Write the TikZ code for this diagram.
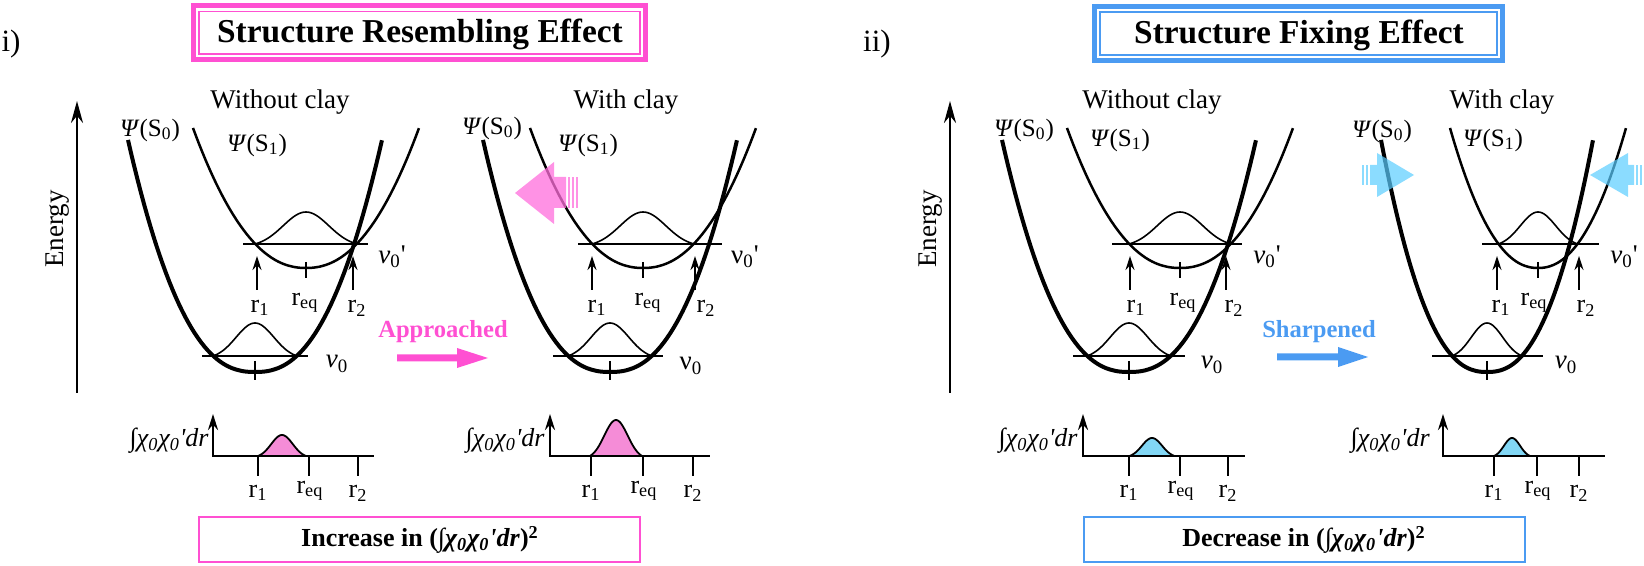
\documentclass[tikz,border=0pt]{standalone}
\usepackage{fontspec}
\setmainfont{Liberation Serif}
\usetikzlibrary{arrows.meta}
\definecolor{pinkc}{RGB}{255,80,210}
\definecolor{bluec}{RGB}{75,155,242}
\definecolor{pinkfill}{RGB}{245,140,215}
\definecolor{bluefill}{RGB}{130,215,245}
\definecolor{cyanarr}{RGB}{90,205,255}
\definecolor{pinkarr}{RGB}{255,110,220}
\newcommand\pr{\textquotesingle}
\newcommand\wellpot[4]{%
  \draw[s0] plot[domain=-1:1,samples=81] ({#1+#2*\x},{372-232*pow(abs(\x)+0.0001,2.4)});
  \draw[s1] plot[domain=-1:1,samples=81] ({#3+#4*\x},{268-140*pow(abs(\x)+0.0001,2.2)});
}
\newcommand\gaus[4]{%
  \draw[gline] plot[domain=-1:1,samples=41] ({#1+#2*\x},{#3-#4*(exp(-2.5*\x*\x)-0.0821)/0.9179});
}
\newcommand\gausfill[5]{%
  \filldraw[fill=#5,line width=0.9pt] plot[domain=-1:1,samples=41] ({#1+#2*\x},{#3-#4*(exp(-2.5*\x*\x)-0.0821)/0.9179}) -- cycle;
}
\begin{document}
\begin{tikzpicture}[x=0.5pt,y=-0.5pt,
  s0/.style={line width=2pt},
  s1/.style={line width=1.25pt},
  gline/.style={line width=0.8pt},
  lev/.style={line width=0.9pt},
  tk/.style={line width=0.6pt},
  rarr/.style={line width=0.7pt,-{Stealth[length=7pt,width=4.5pt]}},
  eax/.style={line width=1.3pt,-{Stealth[length=11pt,width=6pt]}},
  iax/.style={line width=1.2pt,-{Stealth[length=8pt,width=5pt]}},
  xax/.style={line width=1.2pt},
  txt/.style={inner sep=0pt,font=\fontsize{13.5}{16}\selectfont},
  psil/.style={inner sep=0pt,font=\fontsize{12.5}{15}\selectfont},
  rl/.style={inner sep=0pt,font=\fontsize{13}{15}\selectfont},
  il/.style={inner sep=0pt,font=\fontsize{13}{15}\selectfont\itshape},
  ttl/.style={inner sep=0pt,font=\fontsize{16.7}{20}\selectfont\bfseries},
  btxt/.style={inner sep=0pt,font=\fontsize{13}{16}\selectfont\bfseries},
  atxt/.style={inner sep=0pt,font=\fontsize{12.3}{15}\selectfont\bfseries},
  num/.style={inner sep=0pt,font=\fontsize{15.5}{18}\selectfont}]
\useasboundingbox (0,0) rectangle (1644,566);

% ---------- titles ----------
\node[num] (ni) at (11,44) {i)};
\node[num] (nii) at (877,44) {ii)};
\draw[pinkc,line width=2.5pt] (193.5,6) rectangle (645.5,59.5);
\draw[pinkc,line width=0.8pt] (199,11.5) rectangle (640,54);
\node[ttl] (t1) at (420,34) {Structure Resembling Effect};
\draw[bluec,line width=2.5pt] (1094.5,6.5) rectangle (1502.5,60.5);
\draw[bluec,line width=0.8pt] (1100,12) rectangle (1497,55);
\node[ttl] (t2) at (1299,35) {Structure Fixing Effect};

% ---------- energy axes ----------
\draw[eax] (77,393) -- (77,101);
\node[txt,rotate=90] (e1) at (58,229) {Energy};
\draw[eax] (950,393) -- (950,101);
\node[txt,rotate=90] (e2) at (931,229) {Energy};

% ---------- panel A : without clay (i) ----------
\wellpot{255}{127}{306}{113}
\gaus{306}{51}{244}{32}
\gaus{255}{42}{356}{33}
\draw[lev] (243,244) -- (368,244);
\draw[lev] (202,356) -- (308,356);
\draw[tk] (306,262) -- (306,278);
\draw[tk] (255,361) -- (255,380);
\draw[rarr] (257,290) -- (257,256);
\draw[rarr] (353,290) -- (353,256);
\node[txt] (a-t) at (280,102) {Without clay};
\node[psil] (a-s0) at (150,130) {\textit{Ψ}(S\textsubscript{0})};
\node[psil] (a-s1) at (257,145) {\textit{Ψ}(S\textsubscript{1})};
\node[txt] (a-v1) at (392,257) {\textit{v}\textsubscript{0}\pr};
\node[txt] (a-v0) at (337,364) {\textit{v}\textsubscript{0}};
\node[rl] (a-r1) at (260,308) {r\textsubscript{1}};
\node[rl] (a-rq) at (305,303) {r\textsubscript{eq}};
\node[rl] (a-r2) at (357,308) {r\textsubscript{2}};

% ---------- panel B : with clay (i) ----------
\wellpot{610}{127}{643}{113}
\gaus{643}{51}{244}{32}
\gaus{610}{42}{356}{33}
\draw[lev] (578,244) -- (722,244);
\draw[lev] (553,356) -- (663,356);
\draw[tk] (643,262) -- (643,278);
\draw[tk] (610,361) -- (610,380);
\draw[rarr] (592,290) -- (592,256);
\draw[rarr] (695,290) -- (695,256);
\node[txt] (b-t) at (626,102) {With clay};
\node[psil] (b-s0) at (492,128) {\textit{Ψ}(S\textsubscript{0})};
\node[psil] (b-s1) at (588,145) {\textit{Ψ}(S\textsubscript{1})};
\node[txt] (b-v1) at (745,257) {ν\textsubscript{0}\pr};
\node[txt] (b-v0) at (691,366) {ν\textsubscript{0}};
\node[rl] (b-r1) at (597,308) {r\textsubscript{1}};
\node[rl] (b-rq) at (648,303) {r\textsubscript{eq}};
\node[rl] (b-r2) at (706,308) {r\textsubscript{2}};
% translucent pink arrow
\fill[pinkarr,opacity=0.75] (515,193) -- (554,162) -- (554,177) -- (566,177) -- (566,208) -- (554,208) -- (554,224) -- cycle;
\fill[pinkarr,opacity=0.75] (568,177) rectangle (570,208);
\fill[pinkarr,opacity=0.75] (572,177) rectangle (574,208);
\fill[pinkarr,opacity=0.75] (576,177) rectangle (577.5,208);

% approached arrow
\node[atxt,text=pinkc] (appr) at (443,332) {Approached};
\fill[pinkc] (397,354.5) -- (457,354.5) -- (457,348) -- (488,358) -- (457,368) -- (457,361.5) -- (397,361.5) -- cycle;

% ---------- panel C : without clay (ii) ----------
\wellpot{1129}{127}{1180}{113}
\gaus{1180}{51}{244}{32}
\gaus{1129}{42}{356}{33}
\draw[lev] (1112,244) -- (1242,244);
\draw[lev] (1073,356) -- (1185,356);
\draw[tk] (1180,262) -- (1180,278);
\draw[tk] (1129,361) -- (1129,380);
\draw[rarr] (1130,290) -- (1130,256);
\draw[rarr] (1226,290) -- (1226,256);
\node[txt] (c-t) at (1152,102) {Without clay};
\node[psil] (c-s0) at (1024,130) {\textit{Ψ}(S\textsubscript{0})};
\node[psil] (c-s1) at (1120,140) {\textit{Ψ}(S\textsubscript{1})};
\node[txt] (c-v1) at (1267,257) {\textit{v}\textsubscript{0}\pr};
\node[txt] (c-v0) at (1212,365) {\textit{v}\textsubscript{0}};
\node[rl] (c-r1) at (1136,308) {r\textsubscript{1}};
\node[rl] (c-rq) at (1183,303) {r\textsubscript{eq}};
\node[rl] (c-r2) at (1234,308) {r\textsubscript{2}};

% ---------- panel D : with clay (ii) ----------
\wellpot{1487}{106}{1538}{88}
\gaus{1538}{39.5}{244}{32}
\gaus{1487}{35}{356}{33}
\draw[lev] (1482,244) -- (1599,244);
\draw[lev] (1432,356) -- (1543,356);
\draw[tk] (1538,262) -- (1538,278);
\draw[tk] (1487,361) -- (1487,380);
\draw[rarr] (1497,290) -- (1497,256);
\draw[rarr] (1579,290) -- (1579,256);
\node[txt] (d-t) at (1502,102) {With clay};
\node[psil] (d-s0) at (1382,131) {\textit{Ψ}(S\textsubscript{0})};
\node[psil] (d-s1) at (1493,140) {\textit{Ψ}(S\textsubscript{1})};
\node[txt] (d-v1) at (1624,257) {\textit{v}\textsubscript{0}\pr};
\node[txt] (d-v0) at (1566,365) {\textit{v}\textsubscript{0}};
\node[rl] (d-r1) at (1501,308) {r\textsubscript{1}};
\node[rl] (d-rq) at (1534,303) {r\textsubscript{eq}};
\node[rl] (d-r2) at (1586,308) {r\textsubscript{2}};
% translucent blue arrows
\fill[cyanarr,opacity=0.7] (1414,175) -- (1377,153) -- (1377,165) -- (1370,165) -- (1370,185) -- (1377,185) -- (1377,197) -- cycle;
\fill[cyanarr,opacity=0.7] (1366,165) rectangle (1368,185);
\fill[cyanarr,opacity=0.7] (1362,165) rectangle (1364,185);
\fill[cyanarr,opacity=0.7] (1590,175) -- (1628,153) -- (1628,165) -- (1634,165) -- (1634,185) -- (1628,185) -- (1628,197) -- cycle;
\fill[cyanarr,opacity=0.7] (1636,165) rectangle (1638,185);
\fill[cyanarr,opacity=0.7] (1640,165) rectangle (1642,185);

% sharpened arrow
\node[atxt,text=bluec] (sharp) at (1319,332) {Sharpened};
\fill[bluec] (1277,353.5) -- (1338,353.5) -- (1338,347) -- (1368,357) -- (1338,367) -- (1338,360.5) -- (1277,360.5) -- cycle;

% ---------- overlap integral plots ----------
% i-left
\gausfill{282}{24}{456}{21}{pinkfill}
\draw[iax] (213,457) -- (213,414);
\draw[xax] (212.4,456) -- (374,456);
\foreach \t in {258,309,358} \draw[tk] (\t,456) -- (\t,476);
\node[il,anchor=east] (p1) at (209,441) {∫χ\textsubscript{0}χ\textsubscript{0}\pr dr};
\node[rl] (p1a) at (258,493) {r\textsubscript{1}};
\node[rl] (p1b) at (310,491) {r\textsubscript{eq}};
\node[rl] (p1c) at (358,493) {r\textsubscript{2}};
% i-right
\gausfill{616}{26}{456}{36}{pinkfill}
\draw[iax] (550,457) -- (550,414);
\draw[xax] (549.4,456) -- (710,456);
\foreach \t in {591,643,693} \draw[tk] (\t,456) -- (\t,476);
\node[il,anchor=east] (p2) at (545,441) {∫χ\textsubscript{0}χ\textsubscript{0}\pr dr};
\node[rl] (p2a) at (591,493) {r\textsubscript{1}};
\node[rl] (p2b) at (644,491) {r\textsubscript{eq}};
\node[rl] (p2c) at (693,493) {r\textsubscript{2}};
% ii-left
\gausfill{1152}{22.5}{456}{18}{bluefill}
\draw[iax] (1083,457) -- (1083,414);
\draw[xax] (1082.4,456) -- (1245,456);
\foreach \t in {1129,1180,1228} \draw[tk] (\t,456) -- (\t,476);
\node[il,anchor=east] (p3) at (1078,441) {∫χ\textsubscript{0}χ\textsubscript{0}\pr dr};
\node[rl] (p3a) at (1129,493) {r\textsubscript{1}};
\node[rl] (p3b) at (1181,491) {r\textsubscript{eq}};
\node[rl] (p3c) at (1228,493) {r\textsubscript{2}};
% ii-right
\gausfill{1512}{18}{456}{18}{bluefill}
\draw[iax] (1443,457) -- (1443,414);
\draw[xax] (1442.4,456) -- (1605,456);
\foreach \t in {1494,1537,1579} \draw[tk] (\t,456) -- (\t,476);
\node[il,anchor=east] (p4) at (1430,441) {∫χ\textsubscript{0}χ\textsubscript{0}\pr dr};
\node[rl] (p4a) at (1494,493) {r\textsubscript{1}};
\node[rl] (p4b) at (1538,491) {r\textsubscript{eq}};
\node[rl] (p4c) at (1579,493) {r\textsubscript{2}};

% ---------- result boxes ----------
\draw[pinkc,line width=1.4pt] (199,517) rectangle (640,562);
\node[btxt] (res1) at (420,540) {Increase in (∫\textit{χ\textsubscript{0}χ\textsubscript{0}\pr dr})\textsuperscript{2}};
\draw[bluec,line width=1.4pt] (1084,517) rectangle (1525,562);
\node[btxt] (res2) at (1304,540) {Decrease in (∫\textit{χ\textsubscript{0}χ\textsubscript{0}\pr dr})\textsuperscript{2}};
\end{tikzpicture}
\end{document}
